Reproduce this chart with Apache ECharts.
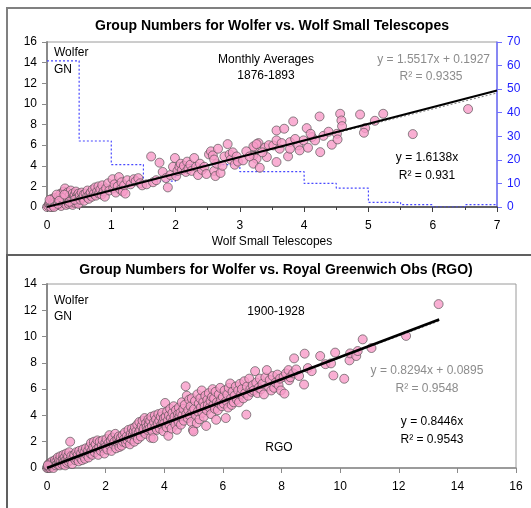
<!DOCTYPE html>
<html>
<head>
<meta charset="utf-8">
<script src="https://cdn.jsdelivr.net/npm/echarts@6/dist/echarts.min.js"></script>
<style>
  html, body { margin: 0; padding: 0; background: #fff; }
  #chart { width: 531px; height: 508px; }
</style>
</head>
<body>
<div id="chart"></div>
<script>
// top panel: Wolfer GN vs Wolf small telescopes, monthly 1876-1893
const wolfSmall = [
  [0.0,0.0],[0.02,0.1],[0.03,0.3],[0.05,0.2],[0.05,0.5],[0.07,0.0],[0.08,0.8],[0.1,0.3],[0.1,0.6],[0.12,0.1],
  [0.12,0.9],[0.14,0.4],[0.15,0.7],[0.16,0.2],[0.18,1.0],[0.18,0.5],[0.2,0.3],[0.2,0.8],[0.21,1.3],[0.22,0.1],
  [0.24,0.6],[0.25,1.0],[0.26,1.5],[0.27,0.4],[0.28,1.8],[0.29,0.8],[0.3,0.2],[0.3,1.2],[0.31,0.6],[0.32,1.4],
  [0.33,0.9],[0.34,0.3],[0.35,1.1],[0.36,0.7],[0.37,1.6],[0.38,0.5],[0.39,0.9],[0.4,1.3],[0.4,0.2],[0.41,0.7],
  [0.42,1.0],[0.43,1.2],[0.44,0.4],[0.45,0.8],[0.45,1.5],[0.46,0.6],[0.47,1.1],[0.48,0.9],[0.49,0.3],[0.49,1.3],
  [0.06,0.0],[0.09,0.2],[0.11,0.0],[0.13,0.5],[0.17,0.3],[0.23,0.9],[0.15,1.2],[0.04,0.7],[0.19,0.6],[0.27,1.2],
  [0.35,0.5],[0.43,0.7],
  [0.51,1.1],[0.52,0.7],[0.54,1.4],[0.55,0.9],[0.57,1.2],[0.58,0.6],[0.6,1.3],[0.62,1.0],[0.63,1.6],[0.65,0.8],
  [0.66,1.2],[0.68,1.4],[0.7,1.0],[0.71,1.7],[0.73,1.3],[0.75,1.9],[0.76,1.1],[0.78,1.5],[0.8,2.0],[0.81,1.3],
  [0.83,1.7],[0.85,1.2],[0.86,2.1],[0.88,1.5],[0.9,1.0],[0.92,1.8],[0.95,2.3],[0.97,1.6],
  [1.02,2.7],[1.03,1.8],[1.05,2.2],[1.07,1.4],[1.1,2.0],[1.12,2.9],[1.14,1.7],[1.16,2.4],[1.18,1.5],[1.2,2.1],
  [1.22,1.3],[1.25,2.6],[1.3,2.2],[1.35,2.7],[1.38,2.5],[1.42,2.8],[1.45,2.3],[1.48,2.1],
  [1.55,2.2],[1.62,4.9],[1.65,2.4],[1.7,2.6],[1.75,4.3],[1.8,3.4],[1.85,2.8],[1.88,1.9],[1.92,3.1],[1.96,3.9],[1.99,4.75],
  [2.01,3.0],[2.03,3.5],[2.06,3.9],[2.08,4.2],[2.1,3.6],[2.13,4.0],[2.16,3.4],[2.18,4.4],[2.2,3.7],[2.23,4.1],
  [2.25,3.5],[2.29,4.75],[2.32,3.9],[2.35,3.1],[2.38,4.2],[2.41,3.6],[2.45,3.9],[2.48,3.2],
  [2.52,5.1],[2.55,5.4],[2.58,5.0],[2.6,3.5],[2.62,3.0],[2.64,4.2],[2.66,5.65],[2.7,3.3],[2.73,4.0],[2.76,4.9],
  [2.81,6.1],[2.84,5.1],[2.86,4.6],[2.89,5.3],[2.92,4.1],[2.95,4.9],[2.97,4.4],[2.6,4.6],
  [3.05,4.52],[3.21,5.0],[3.26,4.68],[3.21,4.2],[3.31,3.81],[3.23,5.81],[3.29,6.2],[3.39,5.75],[3.42,4.84],[3.21,5.87],
  [3.26,6.1],[3.1,5.4],[3.15,4.9],[3.35,5.3],[3.45,6.0],
  [3.52,5.97],[3.57,7.42],[3.57,6.46],[3.57,4.36],[3.62,5.65],[3.69,7.59],[3.75,4.91],[3.78,6.29],[3.78,5.65],[3.83,8.3],
  [3.91,5.97],[3.93,5.49],[3.99,6.46],[3.65,6.2],[3.86,6.6],
  [4.04,7.65],[4.06,5.75],[4.12,6.78],[4.17,6.46],[4.24,8.78],[4.25,5.32],[4.43,6.04],[4.3,6.9],[4.38,7.3],[4.1,7.1],
  [4.51,7.1],[4.52,6.55],[4.56,9.04],[4.58,8.39],[4.59,7.84],[4.87,8.97],[4.95,7.65],[4.93,7.2],
  [5.1,8.36],[5.23,9.04],[5.69,7.07],[6.55,9.5]
];
// histogram of Wolf small telescope values (right axis, counts per 0.5 bin)
const binStarts = [0, 0.5, 1, 1.5, 2, 2.5, 3, 3.5, 4, 4.5, 5, 5.5, 6, 6.5, 7];
const binCounts = [62, 28, 18, 11, 18, 18, 15, 15, 10, 8, 2, 1, 0, 1, 1];
const topFit = { slope: 1.6138, xmax: 7 };
const topFitGray = { slope: 1.5517, icept: 0.1927, xmax: 7 };

// bottom panel: Wolfer GN vs RGO, 1900-1928
const rgo = [
  [0.0,0.0],[0.02,0.1],[0.05,0.0],[0.05,0.3],[0.08,0.1],[0.1,0.2],[0.1,0.0],[0.12,0.4],[0.15,0.1],[0.15,0.3],
  [0.18,0.5],[0.2,0.2],[0.22,0.0],[0.25,0.4],[0.27,0.6],[0.3,0.2],[0.32,0.5],[0.35,0.3],[0.37,0.8],[0.4,0.4],
  [0.42,0.6],[0.44,0.2],[0.46,0.9],[0.48,0.5],[0.03,0.2],
  [0.52,0.3],[0.54,0.7],[0.56,1.0],[0.58,0.5],[0.6,0.8],[0.62,0.2],[0.64,0.6],[0.66,1.1],[0.68,0.4],[0.7,0.7],
  [0.72,0.9],[0.74,0.5],[0.76,1.2],[0.79,2.0],[0.8,0.6],[0.83,0.9],[0.86,0.3],[0.9,0.8],[0.93,1.0],[0.97,0.6],
  [1.0,1.2],[1.02,0.7],[1.05,1.0],[1.08,0.5],[1.1,1.3],[1.13,0.8],[1.16,1.1],[1.2,0.6],[1.22,1.4],[1.25,0.9],
  [1.28,1.2],[1.3,0.7],[1.33,1.5],[1.36,1.0],[1.4,1.3],[1.42,0.8],[1.45,1.6],[1.48,1.1],
  [1.5,1.9],[1.52,1.3],[1.55,1.0],[1.58,1.6],[1.6,2.0],[1.63,1.2],[1.66,1.8],[1.7,1.4],[1.72,2.1],[1.75,1.0],
  [1.78,1.6],[1.8,2.0],[1.84,1.3],[1.87,1.7],[1.9,2.1],[1.93,1.5],[1.96,1.1],[1.99,1.9],
  [2.0,1.6],[2.03,2.2],[2.06,1.4],[2.1,1.9],[2.13,2.5],[2.15,1.7],[2.18,2.1],[2.2,1.3],[2.23,2.3],[2.26,1.8],
  [2.3,2.0],[2.33,2.6],[2.36,1.5],[2.4,2.2],[2.42,1.9],[2.45,2.4],[2.47,1.6],[2.49,2.0],
  [2.52,2.3],[2.55,1.7],[2.58,2.5],[2.6,2.0],[2.63,2.2],[2.66,2.7],[2.7,1.9],[2.72,2.4],[2.75,2.1],[2.78,2.9],
  [2.8,2.3],[2.83,1.8],[2.86,2.6],[2.88,2.2],[2.9,3.0],[2.93,2.5],[2.96,2.8],[2.98,2.0],
  [3.0,3.1],[3.02,2.5],[3.05,2.8],[3.08,3.3],[3.1,2.2],[3.13,2.7],[3.15,3.5],[3.18,2.9],[3.2,2.4],[3.23,3.2],
  [3.26,3.6],[3.28,2.8],[3.3,3.0],[3.33,3.8],[3.36,2.6],[3.38,3.4],[3.4,3.1],[3.43,2.9],[3.46,3.7],[3.48,3.3],
  [3.5,3.0],[3.52,3.6],[3.54,2.3],[3.56,3.9],[3.58,3.2],[3.6,2.8],[3.63,2.27],[3.65,3.5],[3.68,4.0],[3.7,3.1],
  [3.72,3.7],[3.75,2.9],[3.78,3.4],[3.8,4.1],[3.83,3.6],[3.85,3.0],[3.88,3.9],[3.9,3.3],[3.93,4.2],[3.95,3.5],
  [3.97,2.8],[3.99,3.8],
  [4.0,3.4],[4.03,4.95],[4.05,3.9],[4.08,3.1],[4.1,4.3],[4.12,3.6],[4.14,2.45],[4.16,4.0],[4.18,3.3],[4.2,4.5],
  [4.23,3.8],[4.25,3.0],[4.28,4.2],[4.3,3.6],[4.32,4.7],[4.35,3.9],[4.38,3.3],[4.4,4.4],[4.43,2.91],[4.45,3.7],
  [4.47,4.1],[4.49,3.5],
  [4.5,4.6],[4.52,3.9],[4.55,4.2],[4.57,3.3],[4.6,5.0],[4.62,4.0],[4.65,4.5],[4.67,3.6],[4.7,4.8],[4.73,6.22],
  [4.75,4.1],[4.77,5.5],[4.8,3.8],[4.82,4.4],[4.85,5.2],[4.87,4.0],[4.9,4.7],[4.92,3.5],[4.94,5.3],[4.96,4.3],
  [4.98,2.9],[5.0,2.78],
  [5.02,4.5],[5.05,5.1],[5.08,4.0],[5.11,3.42],[5.13,5.6],[5.15,4.3],[5.18,4.9],[5.2,3.7],[5.23,5.3],[5.25,4.6],
  [5.28,5.9],[5.3,4.2],[5.33,5.0],[5.35,3.9],[5.38,4.7],[5.4,5.5],[5.43,3.2],[5.45,4.4],[5.47,5.2],[5.49,4.8],
  [5.52,5.7],[5.55,4.6],[5.58,5.1],[5.6,4.1],[5.63,5.4],[5.65,6.0],[5.68,4.8],[5.7,5.3],[5.73,4.5],[5.75,5.8],
  [5.77,3.67],[5.8,5.0],[5.83,4.4],[5.86,5.6],[5.88,4.9],[5.91,6.1],[5.94,5.2],[5.97,4.7],
  [6.0,5.4],[6.03,4.9],[6.06,5.9],[6.1,3.8],[6.12,5.1],[6.15,5.6],[6.18,4.6],[6.2,6.1],[6.25,6.43],[6.28,5.3],
  [6.3,4.8],[6.33,5.8],[6.37,5.0],[6.4,5.5],[6.44,6.2],[6.48,5.2],
  [6.52,5.9],[6.55,5.0],[6.58,6.4],[6.62,5.6],[6.65,6.0],[6.7,5.3],[6.73,6.6],[6.76,5.7],[6.8,4.06],[6.82,6.2],
  [6.86,5.5],[6.9,6.8],[6.94,6.0],[6.98,5.8],
  [7.02,6.3],[7.05,5.9],[7.1,7.37],[7.14,6.5],[7.18,5.7],[7.22,6.1],[7.26,6.8],[7.3,6.0],[7.35,6.4],[7.4,5.6],
  [7.45,6.9],[7.5,7.45],
  [7.55,6.2],[7.6,6.7],[7.65,5.9],[7.7,7.0],[7.75,6.1],[7.8,6.5],[7.86,7.11],[7.9,6.3],[7.95,6.8],[7.98,5.9],
  [8.07,6.94],[8.1,5.66],[8.15,7.2],[8.24,7.45],[8.26,6.68],[8.3,6.9],[8.4,7.2],[8.43,8.34],
  [8.5,7.5],[8.6,7.0],[8.77,6.35],[8.79,8.7],[8.9,7.6],
  [9.03,7.37],[9.32,8.52],[9.5,7.9],[9.69,7.96],[9.77,7.04],[9.83,8.78],
  [10.14,6.79],[10.32,8.19],[10.34,8.72],[10.55,8.52],[10.77,9.79],[10.6,8.9],
  [11.07,9.13],[12.25,10.05],[13.36,12.47]
];
const botFit = { slope: 0.8446, xmax: 13.38 };
const botFitGray = { slope: 0.8294, icept: 0.0895, xmax: 13.38 };

const font = "Liberation Sans, Arial, sans-serif";
const pink = "#f79bc8";
const dot = {
    color: pink,
    borderColor: "#4a4a4a",
    borderWidth: 0.8,
};
const fitLine = (f) => [[0, f.icept || 0], [f.xmax, f.slope * f.xmax + (f.icept || 0)]];
const histData = binStarts.map((b, i) => [b, binCounts[i]]);

const chart = echarts.init(document.getElementById("chart"), null, { renderer: "canvas" });

const axisText = { fontFamily: font, fontSize: 12, color: "#000" };
const txt = (x, y, text, opts) => ({
    type: "text",
    x, y,
    style: Object.assign({
        text,
        fontFamily: font,
        fontSize: 12,
        fill: "#000",
        textAlign: "center",
        textVerticalAlign: "middle",
    }, opts || {}),
    z: 100,
});

const option = {
    animation: false,
    backgroundColor: "#fff",
    grid: [
        { left: 47, top: 42, width: 450, height: 165, show: true, borderColor: "#9a9a9a", borderWidth: 1 },
        { left: 47, top: 284, width: 469, height: 184, show: true, borderColor: "#9a9a9a", borderWidth: 1 },
    ],
    xAxis: [
        {
            gridIndex: 0, type: "value", min: 0, max: 7, interval: 1,
            name: "Wolf Small Telescopes", nameLocation: "middle", nameGap: 29,
            nameTextStyle: { fontFamily: font, fontSize: 12, color: "#000" },
            axisLine: { lineStyle: { color: "#404040", width: 1.5 } },
            axisTick: { inside: false, length: 5, lineStyle: { color: "#404040" } },
            minorTick: { show: true, splitNumber: 2, length: 3, lineStyle: { color: "#404040" } },
            axisLabel: Object.assign({ margin: 13 }, axisText),
            splitLine: { show: false },
        },
        {
            gridIndex: 1, type: "value", min: 0, max: 16, interval: 2,
            axisLine: { lineStyle: { color: "#8a8a8a", width: 1.5 } },
            axisTick: { inside: false, length: 5, lineStyle: { color: "#8a8a8a" } },
            axisLabel: Object.assign({ margin: 13 }, axisText),
            splitLine: { show: false },
        },
    ],
    yAxis: [
        {
            gridIndex: 0, type: "value", min: 0, max: 16, interval: 2,
            axisLine: { show: true, lineStyle: { color: "#8a8a8a", width: 2 } },
            axisTick: { show: true, length: 5, lineStyle: { color: "#8a8a8a" } },
            axisLabel: Object.assign({ margin: 10 }, axisText),
            splitLine: { show: false },
        },
        {
            gridIndex: 0, type: "value", min: 0, max: 70, interval: 10, position: "right",
            axisLine: { show: true, lineStyle: { color: "#7070ff", width: 1.5 } },
            axisTick: { show: true, length: 5, lineStyle: { color: "#7070ff" } },
            axisLabel: { margin: 10, fontFamily: font, fontSize: 12, color: "#2020ff" },
            splitLine: { show: false },
        },
        {
            gridIndex: 1, type: "value", min: 0, max: 14, interval: 2,
            axisLine: { show: true, lineStyle: { color: "#8a8a8a", width: 2 } },
            axisTick: { show: true, length: 5, lineStyle: { color: "#8a8a8a" } },
            axisLabel: Object.assign({ margin: 10 }, axisText),
            splitLine: { show: false },
        },
    ],
    series: [
        {
            type: "line", xAxisIndex: 0, yAxisIndex: 1, step: "end",
            data: histData, showSymbol: false, z: 1,
            lineStyle: { color: "#4848ff", width: 1.2, type: [2, 2] },
        },
        {
            type: "scatter", xAxisIndex: 0, yAxisIndex: 0,
            data: wolfSmall, symbolSize: 9, itemStyle: dot, z: 2,
        },
        {
            type: "line", xAxisIndex: 0, yAxisIndex: 0, data: fitLine(topFitGray),
            showSymbol: false, z: 3, lineStyle: { color: "#7a7a7a", width: 1, type: [2, 2] },
        },
        {
            type: "line", xAxisIndex: 0, yAxisIndex: 0, data: fitLine(topFit),
            showSymbol: false, z: 4, lineStyle: { color: "#000", width: 2 },
        },
        {
            type: "scatter", xAxisIndex: 1, yAxisIndex: 2,
            data: rgo, symbolSize: 9, itemStyle: dot, z: 2,
        },
        {
            type: "line", xAxisIndex: 1, yAxisIndex: 2, data: fitLine(botFitGray),
            showSymbol: false, z: 3, lineStyle: { color: "#7a7a7a", width: 1, type: [2, 2] },
        },
        {
            type: "line", xAxisIndex: 1, yAxisIndex: 2, data: fitLine(botFit),
            showSymbol: false, z: 4, lineStyle: { color: "#000", width: 2.5 },
        },
    ],
    graphic: [
        { type: "rect", shape: { x: 7, y: 8, width: 560, height: 247 }, style: { fill: "none", stroke: "#808080", lineWidth: 2 }, z: 50 },
        { type: "rect", shape: { x: 7, y: 255, width: 560, height: 280 }, style: { fill: "none", stroke: "#606060", lineWidth: 2 }, z: 50 },
        txt(272, 26, "Group Numbers for Wolfer vs. Wolf Small Telescopes", { fontWeight: "bold", fontSize: 14 }),
        txt(54, 53, "Wolfer", { textAlign: "left" }),
        txt(54, 70, "GN", { textAlign: "left" }),
        txt(266, 60, "Monthly Averages"),
        txt(266, 76, "1876-1893"),
        txt(490, 60, "y = 1.5517x + 0.1927", { textAlign: "right", fill: "#8c8c8c" }),
        txt(431, 77, "R² = 0.9335", { fill: "#8c8c8c" }),
        txt(427, 158, "y = 1.6138x"),
        txt(427, 176, "R² = 0.931"),
        txt(276, 270, "Group Numbers for Wolfer vs. Royal Greenwich Obs (RGO)", { fontWeight: "bold", fontSize: 14 }),
        txt(54, 301, "Wolfer", { textAlign: "left" }),
        txt(54, 317, "GN", { textAlign: "left" }),
        txt(276, 312, "1900-1928"),
        txt(427, 371, "y = 0.8294x + 0.0895", { fill: "#8c8c8c" }),
        txt(427, 389, "R² = 0.9548", { fill: "#8c8c8c" }),
        txt(432, 422, "y = 0.8446x"),
        txt(432, 440, "R² = 0.9543"),
        txt(279, 448, "RGO"),
    ],
};
chart.setOption(option);
</script>
</body>
</html>
